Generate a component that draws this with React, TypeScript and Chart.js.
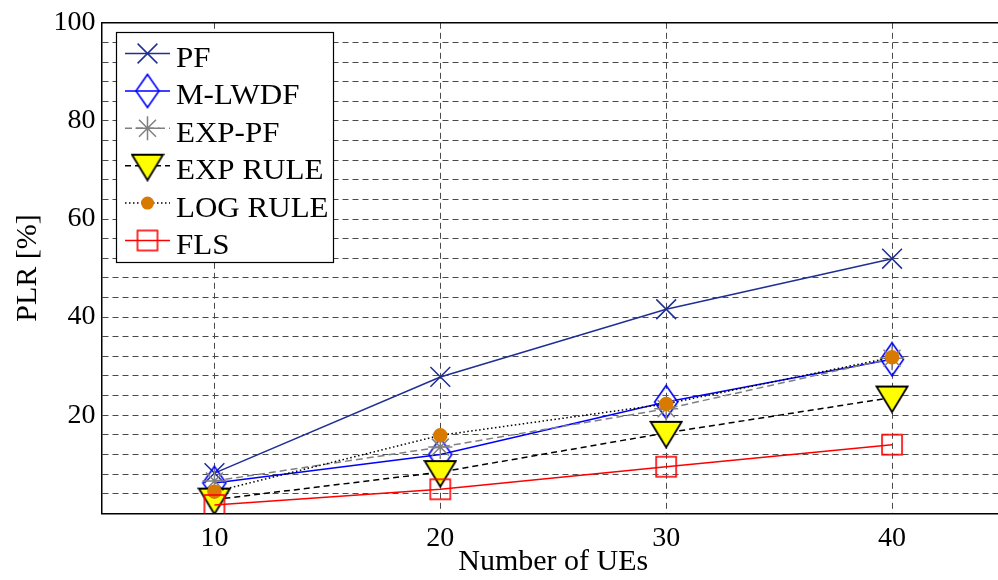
import React, { useEffect, useRef } from "react";
import { Chart, registerables } from "chart.js";

Chart.register(...registerables);

// ---- data ----
const UES = [10, 20, 30, 40];
const PF = [8.2, 27.8, 41.6, 51.9];
const M_LWDF = [6.2, 12.0, 22.7, 31.4];
const EXP_PF = [6.6, 13.5, 21.3, 31.6];
const EXP_RULE = [2.8, 8.4, 16.4, 23.6];
const LOG_RULE = [4.4, 15.9, 22.3, 31.8];
const FLS = [1.7, 4.9, 9.5, 14.0];
const SERIES_NAMES = ["PF", "M-LWDF", "EXP-PF", "EXP RULE", "LOG RULE", "FLS"];
const X_TICKS = [10, 20, 30, 40];
const Y_TICK_LABELS = [20, 40, 60, 80, 100];
const X_TITLE = "Number of UEs";
const Y_TITLE = "PLR [%]";

const FONT = "'Liberation Serif', 'Times New Roman', serif";

function makeCanvas(w: number, h: number, draw: (c: CanvasRenderingContext2D) => void) {
  const c = document.createElement("canvas");
  c.width = w;
  c.height = h;
  const ctx = c.getContext("2d")!;
  draw(ctx);
  return c;
}

export default function App() {
  const ref = useRef<HTMLCanvasElement>(null);

  useEffect(() => {
    const diamond = makeCanvas(26, 36, (c) => {
      c.strokeStyle = "#0000ff";
      c.lineWidth = 1.6;
      c.beginPath();
      c.moveTo(13, 1.5);
      c.lineTo(24.5, 18);
      c.lineTo(13, 34.5);
      c.lineTo(1.5, 18);
      c.closePath();
      c.stroke();
    });
    const triangle = makeCanvas(34, 32, (c) => {
      c.fillStyle = "#ffff00";
      c.strokeStyle = "#000";
      c.lineWidth = 1.8;
      c.beginPath();
      c.moveTo(1.5, 5);
      c.lineTo(32.5, 5);
      c.lineTo(17, 30.5);
      c.closePath();
      c.fill();
      c.stroke();
    });
    const square = makeCanvas(24, 24, (c) => {
      c.strokeStyle = "#ff0000";
      c.lineWidth = 1.6;
      c.strokeRect(2, 2, 20, 20);
    });

    const pts = (arr: number[]) => UES.map((x, i) => ({ x, y: arr[i] }));

    const styles = [
      { data: PF, color: "#1f2f96", dash: [] as number[], point: "crossRot", radius: 14, bg: "#1f2f96" },
      { data: M_LWDF, color: "#0000ff", dash: [], point: diamond, radius: 14, bg: "#0000ff" },
      { data: EXP_PF, color: "#808080", dash: [7, 4], point: "star", radius: 12, bg: "#808080" },
      { data: EXP_RULE, color: "#000000", dash: [6, 4], point: triangle, radius: 16, bg: "#ffff00" },
      { data: LOG_RULE, color: "#000000", dash: [1.5, 2.5], point: "circle", radius: 6.5, bg: "#d97a00" },
      { data: FLS, color: "#ff0000", dash: [], point: square, radius: 12, bg: "#ff0000" },
    ];

    const datasets = styles.map((s, i) => ({
      label: SERIES_NAMES[i],
      data: pts(s.data),
      borderColor: s.color,
      borderWidth: 1.5,
      borderDash: s.dash,
      pointStyle: s.point as any,
      pointRadius: s.radius,
      pointHoverRadius: s.radius,
      pointBorderColor: i === 4 ? "#d97a00" : s.color,
      pointBackgroundColor: s.bg,
      pointBorderWidth: 1.5,
      fill: false,
      tension: 0,
      order: 5 - i,
    }));

    const legendMarkerColors = ["#1f2f96", "#0000ff", "#808080", "#000", "#d97a00", "#ff0000"];

    const framePlugin = {
      id: "frameAndLegend",
      afterDraw(chart: any) {
        const ctx: CanvasRenderingContext2D = chart.ctx;
        const a = chart.chartArea;
        ctx.save();
        // top frame line
        ctx.strokeStyle = "#000";
        ctx.lineWidth = 1.5;
        ctx.setLineDash([]);
        ctx.beginPath();
        ctx.moveTo(a.left, a.top);
        ctx.lineTo(a.right, a.top);
        ctx.stroke();

        // legend
        const bx = 116, by = 32, bw = 217, bh = 230;
        ctx.fillStyle = "#fff";
        ctx.fillRect(bx, by, bw, bh);
        ctx.lineWidth = 1.2;
        ctx.strokeStyle = "#000";
        ctx.strokeRect(bx + 0.5, by + 0.5, bw, bh);
        ctx.textBaseline = "alphabetic";
        ctx.textAlign = "left";
        styles.forEach((s, i) => {
          const cy = 53.5 + 37.4 * i;
          const mx = 147.5;
          ctx.strokeStyle = s.color;
          ctx.lineWidth = 1.5;
          ctx.setLineDash(s.dash);
          ctx.beginPath();
          ctx.moveTo(125, cy);
          ctx.lineTo(170, cy);
          ctx.stroke();
          ctx.setLineDash([]);
          const p: any = s.point;
          if (typeof p !== "string") {
            ctx.drawImage(p, mx - p.width / 2, cy - p.height / 2);
          } else if (p === "crossRot") {
            const r = s.radius * Math.SQRT1_2;
            ctx.strokeStyle = legendMarkerColors[i];
            ctx.beginPath();
            ctx.moveTo(mx - r, cy - r);
            ctx.lineTo(mx + r, cy + r);
            ctx.moveTo(mx - r, cy + r);
            ctx.lineTo(mx + r, cy - r);
            ctx.stroke();
          } else if (p === "star") {
            const r = s.radius;
            const d = r * Math.SQRT1_2;
            ctx.strokeStyle = legendMarkerColors[i];
            ctx.beginPath();
            ctx.moveTo(mx - r, cy);
            ctx.lineTo(mx + r, cy);
            ctx.moveTo(mx, cy - r);
            ctx.lineTo(mx, cy + r);
            ctx.moveTo(mx - d, cy - d);
            ctx.lineTo(mx + d, cy + d);
            ctx.moveTo(mx - d, cy + d);
            ctx.lineTo(mx + d, cy - d);
            ctx.stroke();
          } else if (p === "circle") {
            ctx.fillStyle = legendMarkerColors[i];
            ctx.beginPath();
            ctx.arc(mx, cy, s.radius, 0, Math.PI * 2);
            ctx.fill();
          }
          ctx.fillStyle = "#000";
          ctx.save();
          ctx.translate(176, cy + 13.5);
          ctx.scale(1.07, 1);
          ctx.font = `29px ${FONT}`;
          ctx.fillText(SERIES_NAMES[i], 0, 0);
          ctx.restore();
        });
        ctx.restore();
      },
    };

    const gridCommon = {
      color: "#4a4a4a",
      lineWidth: 1,
      drawTicks: false,
    };

    const chart = new Chart(ref.current!, {
      type: "line",
      data: { datasets: datasets as any },
      options: {
        responsive: false,
        animation: false,
        events: [],
        layout: { autoPadding: false, padding: { top: 20, left: 0, right: 0, bottom: 0 } },
        plugins: {
          legend: { display: false },
          tooltip: { enabled: false },
        },
        scales: {
          x: {
            type: "linear",
            min: 5,
            max: 45,
            afterBuildTicks: (axis: any) => {
              axis.ticks = X_TICKS.map((v) => ({ value: v }));
            },
            afterFit: (s: any) => {
              s.height = 66.7;
              s.paddingLeft = 0;
              s.paddingRight = 0;
            },
            grid: gridCommon,
            border: { display: true, color: "#000", width: 1.5, dash: [6, 4] },
            ticks: {
              color: "#000",
              font: { family: FONT, size: 28 },
              padding: 9,
              maxRotation: 0,
              autoSkip: false,
              callback: (v: any) => String(v),
            },
            title: {
              display: true,
              text: X_TITLE,
              color: "#000",
              font: { family: FONT, size: 30 },
              padding: { top: 0, bottom: 0 },
            },
          },
          y: {
            type: "linear",
            min: 0,
            max: 100,
            ticks: {
              stepSize: 4,
              autoSkip: false,
              color: "#000",
              font: { family: FONT, size: 28 },
              padding: 6,
              callback: (v: any) => (Y_TICK_LABELS.includes(Number(v)) ? String(v) : ""),
            },
            afterFit: (s: any) => {
              s.width = 101.5;
            },
            grid: gridCommon,
            border: { display: true, color: "#000", width: 1.5, dash: [6, 4] },
            title: {
              display: true,
              text: Y_TITLE,
              color: "#000",
              font: { family: FONT, size: 30 },
              padding: { top: 10, bottom: 0 },
            },
          },
        },
      },
      plugins: [framePlugin],
    });
    return () => chart.destroy();
  }, []);

  return (
    <div
      style={{
        position: "fixed",
        left: 0,
        top: 0,
        width: 998,
        height: 580,
        overflow: "hidden",
        background: "#fff",
      }}
    >
      <canvas ref={ref} width={1005} height={580} style={{ display: "block" }} />
    </div>
  );
}
